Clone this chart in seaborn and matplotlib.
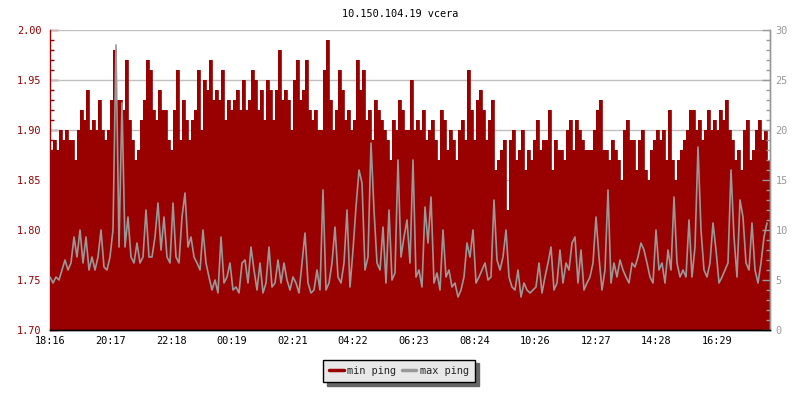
import numpy as np
import pandas as pd
import matplotlib
matplotlib.use("Agg")
import matplotlib.pyplot as plt
import seaborn as sns
from matplotlib.lines import Line2D

# ---- data (one sample every 6 minutes from 18:16) ----
min_ping = [
    1.88,1.89,1.88,1.90,1.89,1.90,1.89,1.89,1.87,1.90,1.92,1.91,1.94,1.90,1.91,1.90,1.93,1.90,1.89,1.90,
    1.93,1.98,1.93,1.93,1.92,1.97,1.91,1.89,1.87,1.88,1.91,1.93,1.97,1.96,1.92,1.91,1.94,1.92,1.92,1.89,
    1.88,1.92,1.96,1.89,1.93,1.91,1.89,1.91,1.92,1.96,1.90,1.95,1.94,1.97,1.93,1.94,1.93,1.96,1.91,1.93,
    1.92,1.93,1.94,1.92,1.95,1.92,1.93,1.96,1.95,1.92,1.94,1.91,1.95,1.94,1.91,1.94,1.98,1.93,1.94,1.93,
    1.90,1.95,1.97,1.93,1.94,1.97,1.92,1.91,1.92,1.90,1.90,1.96,1.99,1.93,1.90,1.92,1.96,1.94,1.91,1.92,
    1.90,1.91,1.97,1.94,1.96,1.91,1.92,1.89,1.93,1.92,1.91,1.90,1.89,1.87,1.91,1.90,1.93,1.92,1.90,1.90,
    1.95,1.90,1.91,1.90,1.92,1.89,1.90,1.91,1.89,1.87,1.92,1.91,1.88,1.90,1.89,1.87,1.90,1.91,1.89,1.96,
    1.92,1.89,1.93,1.94,1.92,1.89,1.91,1.93,1.86,1.87,1.88,1.89,1.82,1.89,1.90,1.87,1.88,1.90,1.86,1.88,
    1.87,1.89,1.91,1.88,1.89,1.89,1.92,1.86,1.89,1.88,1.88,1.87,1.90,1.91,1.88,1.91,1.90,1.89,1.88,1.88,
    1.88,1.90,1.92,1.93,1.88,1.88,1.87,1.89,1.88,1.87,1.85,1.90,1.91,1.89,1.89,1.86,1.89,1.90,1.86,1.85,
    1.88,1.89,1.90,1.89,1.90,1.87,1.92,1.87,1.85,1.87,1.88,1.89,1.90,1.92,1.92,1.90,1.91,1.89,1.90,1.92,
    1.90,1.91,1.90,1.92,1.91,1.93,1.90,1.89,1.87,1.88,1.86,1.90,1.91,1.87,1.88,1.90,1.91,1.89,1.90,1.87,
]
max_ping = [
    5.3,4.7,5.3,5.0,6.0,7.0,6.0,6.7,9.3,7.3,10.0,6.7,9.3,6.0,7.3,6.0,7.3,10.0,6.3,6.0,
    7.3,10.0,28.5,8.3,22.7,8.3,11.3,7.3,6.7,8.7,6.7,7.3,12.0,7.3,7.3,9.3,12.7,8.0,11.3,7.3,
    6.7,12.7,7.3,6.7,11.3,13.7,8.3,9.3,7.3,6.7,6.0,10.0,6.7,5.3,4.0,5.0,3.7,9.3,4.7,5.3,
    6.7,4.0,4.3,3.7,6.7,7.0,4.7,8.3,6.0,4.0,6.7,3.7,4.7,8.3,4.3,4.7,7.0,4.7,6.7,5.0,
    4.0,5.3,4.7,3.7,6.7,9.7,4.7,3.7,4.0,6.0,4.0,14.0,4.0,4.7,6.7,10.3,5.3,4.7,6.7,12.0,
    4.3,8.0,12.3,16.0,14.7,6.0,7.3,18.7,12.0,6.7,6.0,10.3,4.7,12.0,5.0,5.7,17.0,7.3,9.3,11.0,
    6.7,17.0,5.3,6.0,4.3,12.3,8.7,13.3,4.7,5.7,4.0,10.0,5.3,6.0,4.3,4.7,3.3,4.0,5.3,8.7,
    7.3,10.0,4.7,5.3,6.0,6.7,5.0,5.3,13.0,7.0,6.0,7.3,10.0,5.3,4.3,4.0,6.0,3.3,4.7,4.0,
    3.7,4.0,4.3,6.7,3.7,5.3,6.7,8.3,4.0,4.7,8.0,4.7,6.7,6.0,8.7,9.3,4.7,8.0,4.0,4.7,
    5.3,6.7,11.3,7.3,4.0,6.0,14.0,4.7,6.7,5.3,7.0,6.0,5.3,4.7,6.7,6.3,7.3,8.7,8.0,6.7,
    5.3,4.7,10.0,6.0,6.7,4.7,8.0,6.0,13.3,6.7,5.3,6.0,5.3,11.0,5.3,8.3,18.3,10.0,6.0,5.3,
    6.7,10.7,8.0,4.7,5.3,6.0,6.7,16.0,9.3,5.3,13.0,11.3,6.7,6.0,10.7,6.0,4.7,6.7,9.3,10.7,
]
tick_labels = ["18:16", "20:17", "22:18", "00:19", "02:21", "04:22",
               "06:23", "08:24", "10:26", "12:27", "14:28", "16:29"]
title = "10.150.104.19 vcera"
series_names = ["min ping", "max ping"]

step_min = 6
span_min = 1440
tick_every = 121.25

RED = "#990000"
GRAY = "#999999"
FONT = "DejaVu Sans Mono"
FS = 7.4

sns.set_style("white")
plt.rcParams["font.family"] = [FONT, "DejaVu Sans"]

t = np.arange(len(min_ping)) * step_min
df = pd.DataFrame({"t": t, "min": min_ping, "max": max_ping})

fig = plt.figure(figsize=(8, 4), dpi=100)
ax = fig.add_axes([50 / 800, 1 - 330 / 400, 720 / 800, 300 / 400])
ax2 = ax.twinx()

# min ping: filled steps (left axis)
t_ext = np.append(t, span_min)
m_ext = np.append(df["min"].values, df["min"].values[-1])
ax.fill_between(t_ext, 1.70, m_ext, step="post", color=RED, linewidth=0, zorder=2)
sns.lineplot(x=t_ext, y=m_ext, ax=ax, color=RED, linewidth=0.6,
             drawstyle="steps-post", zorder=3, estimator=None)

# max ping: gray line (right axis)
sns.lineplot(data=df, x="t", y="max", ax=ax2, color=GRAY, linewidth=1.2,
             estimator=None, zorder=3)

ax.set_xlim(0, span_min)
ax.set_ylim(1.70, 2.00)
ax2.set_ylim(0, 30)

# grid
ax.set_axisbelow(True)
for yv in np.arange(1.75, 2.001, 0.05):
    ax.axhline(yv, color="#c0c0c0", linewidth=1, zorder=1)

# left axis
ax.set_yticks(np.round(np.arange(1.70, 2.001, 0.05), 2))
ax.set_yticklabels([f"{v:.2f}" for v in np.arange(1.70, 2.001, 0.05)])
ax.set_yticks(np.round(np.arange(1.70, 2.001, 0.01), 2), minor=True)
ax.tick_params(axis="y", which="major", direction="in", length=6, width=1,
               color=RED, labelcolor=RED, labelsize=FS, pad=6)
ax.tick_params(axis="y", which="minor", direction="in", length=3, width=1, color=RED)

# right axis
ax2.set_yticks(np.arange(0, 31, 5))
ax2.set_yticks(np.arange(0, 31, 1), minor=True)
ax2.tick_params(axis="y", which="major", direction="in", length=6, width=1,
                color=GRAY, labelcolor=GRAY, labelsize=FS, pad=4)
ax2.tick_params(axis="y", which="minor", direction="in", length=3, width=1, color=GRAY)

# x axis
ax.set_xticks([k * tick_every for k in range(len(tick_labels))])
ax.set_xticklabels(tick_labels)
ax.tick_params(axis="x", direction="in", length=5, width=1, color="black",
               labelsize=FS, pad=4, labelcolor="black")
for a in (ax, ax2):
    a.set_xlabel("")
    a.set_ylabel("")

for a in (ax, ax2):
    a.spines["top"].set_visible(False)
    a.spines["left"].set_color(RED)
    a.spines["right"].set_color(GRAY)
    a.spines["bottom"].set_color("black")
    for s in a.spines.values():
        s.set_linewidth(1)
ax2.spines["left"].set_visible(False)
ax2.spines["bottom"].set_zorder(5)

fig.text(0.5, 1 - 14 / 400, title, ha="center", va="center", fontsize=FS, color="black")

handles = [Line2D([], [], color=RED, linewidth=2.5),
           Line2D([], [], color=GRAY, linewidth=2.5)]
leg = fig.legend(handles, series_names, loc="center", bbox_to_anchor=(399 / 800, 1 - 371 / 400),
                 ncol=2, frameon=True, fancybox=False,
                 shadow={"color": "#666666", "alpha": 1, "ox": 2.6, "oy": -2.6},
                 facecolor="#e8e8e8", edgecolor="black", fontsize=FS,
                 handlelength=1.4, handletextpad=0.35, columnspacing=0.55,
                 borderpad=0.6, borderaxespad=0)
leg.get_frame().set_linewidth(1)
leg.get_frame().set_alpha(1)

fig.savefig("out.png", dpi=100)
